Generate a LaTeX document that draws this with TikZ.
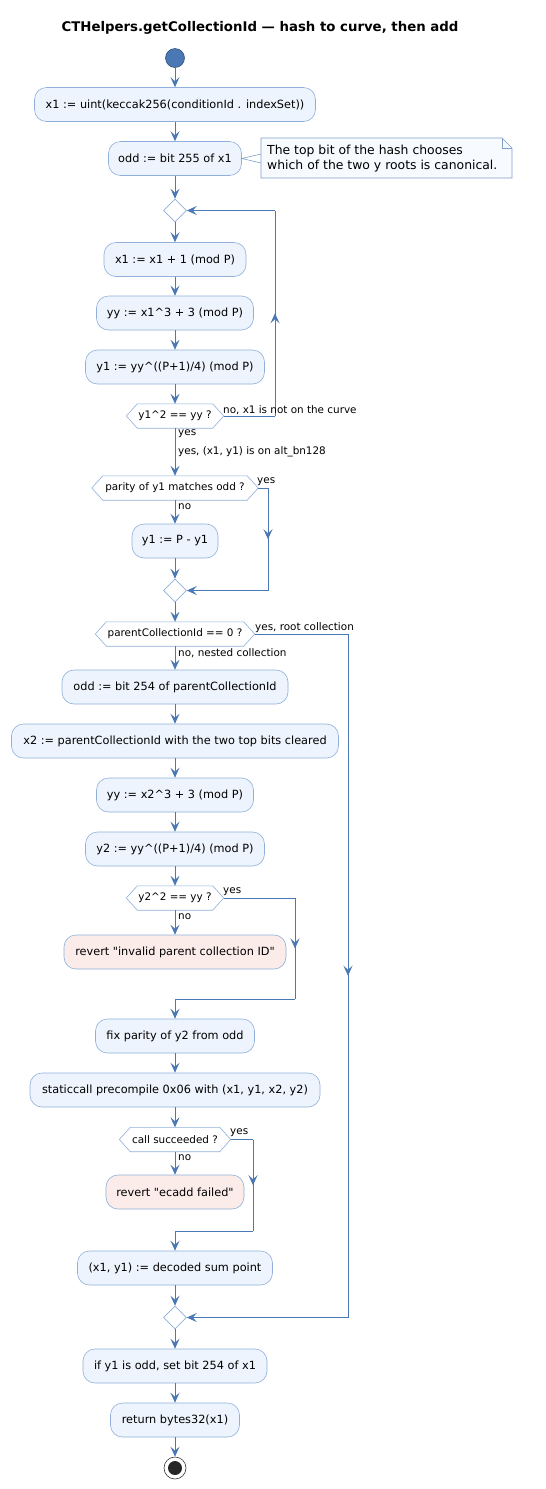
\documentclass[tikz,border=0pt]{standalone}
\usepackage{fontspec}
\setmainfont{DejaVu Sans}[Ligatures=TeXOff]
\usetikzlibrary{arrows.meta,shapes.geometric,decorations.markings}
\definecolor{lineblue}{HTML}{4A78B5}
\definecolor{nodefill}{HTML}{EEF4FD}
\definecolor{nodeborder}{HTML}{8FB0DA}
\definecolor{revfill}{HTML}{FBECEA}
\definecolor{notefill}{HTML}{F7FAFE}
\definecolor{startborder}{HTML}{2E4A72}
\tikzset{
  tip/.tip={Stealth[length=10pt,width=9pt,inset=4pt]},
  act/.style={rectangle, rounded corners=12pt, draw=nodeborder, fill=nodefill, line width=0.6pt,
    minimum height=34pt, inner sep=0pt, font=\fontsize{11.3}{13.5}\selectfont},
  rev/.style={act, fill=revfill},
  hexn/.style={inner sep=0pt, minimum height=24pt, font=\fontsize{10.4}{12.5}\selectfont},
  hexline/.style={draw=nodeborder, line width=0.6pt},
  merge/.style={diamond, draw=nodeborder, fill=white, line width=0.6pt, minimum width=23pt, minimum height=23pt, inner sep=0pt},
  flow/.style={draw=lineblue, line width=0.9pt},
  arr/.style={flow, -tip},
  midarrow/.style={postaction={decorate}, decoration={markings, mark=at position #1 with {\arrow[lineblue]{tip}}}},
  lbl/.style={anchor=west, inner sep=0pt, font=\fontsize{10.4}{12.5}\selectfont},
}
\newcommand\hexat[5]{%
  \node[hexn, minimum width=#4pt] (#1) at (#2,#3) {#5};
  \draw[hexline] (#1.west) -- ([xshift=11pt]#1.north west) -- ([xshift=-11pt]#1.north east) -- (#1.east) -- ([xshift=-11pt]#1.south east) -- ([xshift=11pt]#1.south west) -- cycle;}
\begin{document}
\begin{tikzpicture}[x=1pt,y=-1pt]
\fill[white] (0,0) rectangle (546,1489);
\useasboundingbox (0,0) rectangle (546,1489);

\node[font=\bfseries\fontsize{13.3}{16}\selectfont] (title) at (260,28) {CTHelpers.getCollectionId — hash to curve, then add};

\node[circle, fill=lineblue, draw=startborder, line width=0.5pt, minimum size=19pt, inner sep=0pt] (start) at (175,58) {};

\node[act, minimum width=281pt] (n1) at (175,104.5) {x1 := uint(keccak256(conditionId . indexSet))};
\node[act, minimum width=133pt] (n2) at (175,158.5) {odd := bit 255 of x1};

% note
\draw[draw=lineblue!70, fill=notefill, line width=0.6pt] (261,138) -- (502,138) -- (512,148) -- (512,178) -- (261,178) -- cycle;
\draw[draw=lineblue!70, line width=0.6pt] (502,138) -- (502,148) -- (512,148);
\node[anchor=west, inner sep=0pt, align=left, font=\fontsize{12.4}{15}\selectfont] (note) at (267,158.5) {The top bit of the hash chooses\\which of the two y roots is canonical.};
\coordinate (na) at (261,154);
\coordinate (nb) at (261,163);
\draw[draw=lineblue!70, line width=0.6pt] (na) -- (n2.east) -- (nb);

\node[merge] (d1) at (175,210.5) {};
\node[act, minimum width=142pt] (n3) at (175,259.5) {x1 := x1 + 1 (mod P)};
\node[act, minimum width=157pt] (n4) at (175,313) {yy := x1\textasciicircum 3 + 3 (mod P)};
\node[act, minimum width=179pt] (n5) at (175,367) {y1 := yy\textasciicircum((P+1)/4) (mod P)};
\hexat{h1}{175}{416}{97}{y1\textasciicircum 2 == yy ?}
\hexat{h2}{175}{488}{166}{parity of y1 matches odd ?}
\node[act, minimum width=86pt] (n6) at (175,541) {y1 := P - y1};
\node[merge] (d2) at (175,590.5) {};
\hexat{h3}{175}{634}{159}{parentCollectionId == 0 ?}
\node[act, minimum width=226pt] (n7) at (175,687) {odd := bit 254 of parentCollectionId};
\node[act, minimum width=327pt] (n8) at (175,741) {x2 := parentCollectionId with the two top bits cleared};
\node[act, minimum width=157pt] (n9) at (175,795) {yy := x2\textasciicircum 3 + 3 (mod P)};
\node[act, minimum width=179pt] (n10) at (175,849) {y2 := yy\textasciicircum((P+1)/4) (mod P)};
\hexat{h4}{175}{898}{97}{y2\textasciicircum 2 == yy ?}
\node[rev, minimum width=222pt] (r1) at (175,952) {revert "invalid parent collection ID"};
\node[act, minimum width=159pt] (n11) at (175,1036) {fix parity of y2 from odd};
\node[act, minimum width=290pt] (n12) at (175,1090) {staticcall precompile 0x06 with (x1, y1, x2, y2)};
\hexat{h5}{175}{1139.5}{111}{call succeeded ?}
\node[rev, minimum width=138pt] (r2) at (175,1192) {revert "ecadd failed"};
\node[act, minimum width=195pt] (n13) at (175,1268) {(x1, y1) := decoded sum point};
\node[merge] (d3) at (175,1317.5) {};
\node[act, minimum width=184pt] (n14) at (175,1366) {if y1 is odd, set bit 254 of x1};
\node[act, minimum width=129pt] (n15) at (175,1420) {return bytes32(x1)};
\node[circle, draw=black!80, fill=white, line width=0.6pt, minimum size=22pt, inner sep=0pt] (stop) at (175,1468) {};
\node[circle, fill=black!85, minimum size=14pt, inner sep=0pt] (stopin) at (stop) {};

% straight connectors
\draw[arr] (start) -- (n1);
\draw[arr] (n1) -- (n2);
\draw[arr] (n2) -- (d1);
\draw[arr] (d1) -- (n3);
\draw[arr] (n3) -- (n4);
\draw[arr] (n4) -- (n5);
\draw[arr] (n5) -- (h1);
\draw[arr] (h1) -- (h2);
\draw[arr] (h2) -- (n6);
\draw[arr] (n6) -- (d2);
\draw[arr] (d2) -- (h3);
\draw[arr] (h3) -- (n7);
\draw[arr] (n7) -- (n8);
\draw[arr] (n8) -- (n9);
\draw[arr] (n9) -- (n10);
\draw[arr] (n10) -- (h4);
\draw[arr] (h4) -- (r1);
\draw[arr] (n11) -- (n12);
\draw[arr] (n12) -- (h5);
\draw[arr] (h5) -- (r2);
\draw[arr] (n13) -- (d3);
\draw[arr] (d3) -- (n14);
\draw[arr] (n14) -- (n15);
\draw[arr] (n15) -- (stop);

% loop back
\coordinate (l1a) at (275,416);
\coordinate (l1b) at (275,210.5);
\draw[flow] (h1.east) -- (l1a);
\draw[flow, midarrow=0.5] (l1a) -- (l1b);
\draw[arr] (l1b) -- (d1.east);
\node[lbl] at (223,410) {no, x1 is not on the curve};

\node[lbl] at (178,434) {yes};
\node[lbl] at (178,452) {yes, (x1, y1) is on alt\_bn128};

% parity branch
\coordinate (p1a) at (268,488);
\coordinate (p1b) at (268,590.5);
\draw[flow] (h2.east) -- (p1a);
\draw[flow, midarrow=0.5] (p1a) -- (p1b);
\draw[arr] (p1b) -- (d2.east);
\node[lbl] at (257,482) {yes};
\node[lbl] at (178,507) {no};

% root collection branch
\coordinate (rc1) at (348,634);
\coordinate (rc2) at (348,1317.5);
\draw[flow] (h3.east) -- (rc1);
\draw[flow, midarrow=0.5] (rc1) -- (rc2);
\draw[arr] (rc2) -- (d3.east);
\node[lbl] at (255,628) {yes, root collection};
\node[lbl] at (178,653) {no, nested collection};

% y2 check branch
\coordinate (y2a) at (295,898);
\coordinate (y2b) at (295,999);
\coordinate (y2c) at (175,999);
\draw[flow] (h4.east) -- (y2a);
\draw[flow, midarrow=0.5] (y2a) -- (y2b);
\draw[flow] (y2b) -- (y2c);
\draw[arr] (y2c) -- (n11);
\node[lbl] at (223,892) {yes};
\node[lbl] at (178,917) {no};

% call succeeded branch
\coordinate (c1a) at (253,1139.5);
\coordinate (c1b) at (253,1231);
\coordinate (c1c) at (175,1231);
\draw[flow] (h5.east) -- (c1a);
\draw[flow, midarrow=0.5] (c1a) -- (c1b);
\draw[flow] (c1b) -- (c1c);
\draw[arr] (c1c) -- (n13);
\node[lbl] at (230,1133) {yes};
\node[lbl] at (178,1158) {no};
\end{tikzpicture}
\end{document}
